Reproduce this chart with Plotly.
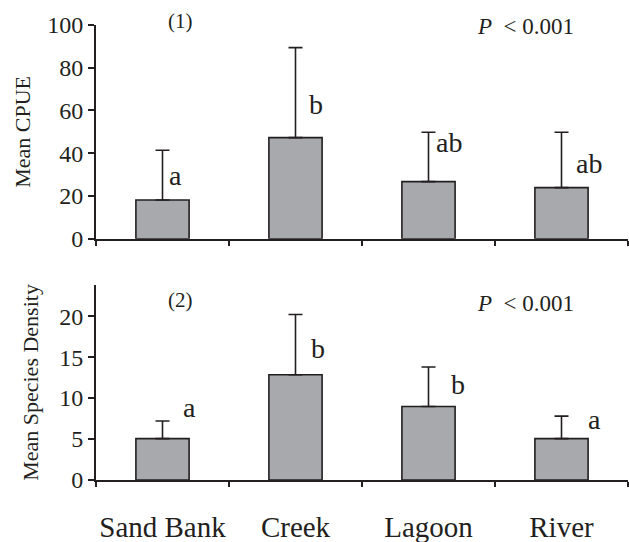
import plotly.graph_objects as go
from plotly.subplots import make_subplots

categories = ["Sand Bank", "Creek", "Lagoon", "River"]

cpue_mean = [18.1, 47.3, 26.7, 23.9]
cpue_err = [23.3, 42.1, 23.1, 25.9]
cpue_letters = ["a", "b", "ab", "ab"]

dens_mean = [5.05, 12.85, 8.97, 5.05]
dens_err = [2.15, 7.35, 4.83, 2.75]
dens_letters = ["a", "b", "b", "a"]

cpue_ticks = [0, 20, 40, 60, 80, 100]
dens_ticks = [0, 5, 10, 15, 20]

# label layout (positions only)
cpue_letter_y = [29.8, 62.6, 44.8, 35.4]
cpue_letter_dx = [4, 11, 5, 12]
dens_letter_y = [8.9, 16.0, 11.7, 7.4]
dens_letter_dx = [18, 13, 20, 24]

INK = "#231f20"
BAR = "#a7a9ac"
FONT = "Liberation Serif, Times New Roman, serif"

W, H = 629, 542
L, R, T, B = 96, 1, 25, 62
pw, ph = W - L - R, H - T - B

fig = make_subplots(rows=2, cols=1, vertical_spacing=0.1)

for row, mean, err in [(1, cpue_mean, cpue_err), (2, dens_mean, dens_err)]:
    fig.add_trace(go.Bar(
        x=categories, y=mean, width=0.4,
        marker=dict(color=BAR, line=dict(color=INK, width=1.6)),
        error_y=dict(type="data", array=err, arrayminus=[0] * len(err),
                     symmetric=False, color=INK, thickness=1.6, width=7),
        showlegend=False,
    ), row=row, col=1)

axis_common = dict(showline=True, linecolor=INK, linewidth=2, showgrid=False,
                   zeroline=False, ticks="outside", tickcolor=INK, tickwidth=2,
                   automargin=False,
                   tickfont=dict(family=FONT, size=24, color=INK))

fig.update_xaxes(**axis_common, tickson="boundaries", ticklen=5, tickangle=0,
                 range=[-0.5, 3.5], fixedrange=True)
fig.update_xaxes(showticklabels=False, row=1, col=1)
fig.update_xaxes(tickfont=dict(family=FONT, size=29, color=INK),
                 ticklabelstandoff=20, row=2, col=1)

fig.update_yaxes(**axis_common, ticklen=6)
fig.update_yaxes(range=[0, 100], tickvals=cpue_ticks, domain=[0.5303, 1.0],
                 title=dict(text="Mean CPUE", font=dict(family=FONT, size=22, color=INK),
                            standoff=10),
                 row=1, col=1)
fig.update_yaxes(range=[0, 23.8], tickvals=dens_ticks, domain=[0.0, 0.4286],
                 title=dict(text="Mean Species Density", font=dict(family=FONT, size=22, color=INK),
                            standoff=14),
                 row=2, col=1)

annotations = []
for xr, yr, letters, ys, dxs in [("x", "y", cpue_letters, cpue_letter_y, cpue_letter_dx),
                                 ("x2", "y2", dens_letters, dens_letter_y, dens_letter_dx)]:
    for c, l, yv, dx in zip(categories, letters, ys, dxs):
        annotations.append(dict(x=c, y=yv, xref=xr, yref=yr, text=l, showarrow=False,
                                xanchor="left", yanchor="middle", xshift=dx,
                                font=dict(family=FONT, size=28, color=INK)))


def px(xp, yp):
    return (xp - L) / pw, (H - B - yp) / ph


for txt, xp, yp in [("(1)", 180, 21), ("(2)", 180, 300)]:
    xx, yy = px(xp, yp)
    annotations.append(dict(x=xx, y=yy, xref="paper", yref="paper", text=txt, showarrow=False,
                            xanchor="center", yanchor="middle",
                            font=dict(family=FONT, size=21, color=INK)))
for yp in [27, 303]:
    xx, yy = px(475, yp)
    annotations.append(dict(x=xx, y=yy, xref="paper", yref="paper",
                            text="<i>P</i>\u00a0\u00a0&lt; 0.001", showarrow=False,
                            xanchor="left", yanchor="middle",
                            font=dict(family=FONT, size=23, color=INK)))

fig.update_layout(
    width=W, height=H,
    margin=dict(l=L, r=R, t=T, b=B),
    paper_bgcolor="white", plot_bgcolor="white",
    annotations=annotations,
)

fig.write_html("out.html", config={"displayModeBar": False},
               post_script="document.body.style.margin='0';document.body.style.padding='0';")
